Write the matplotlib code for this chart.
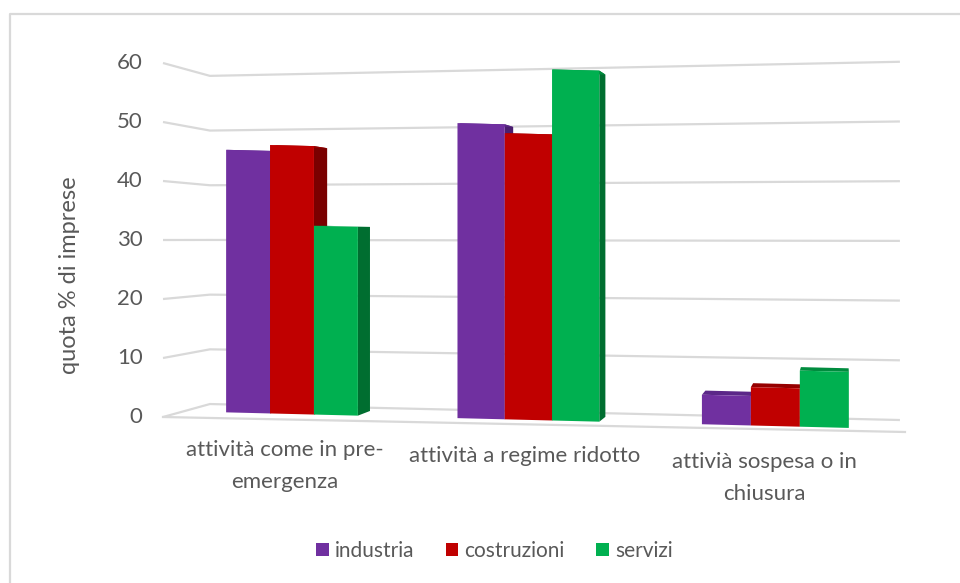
import matplotlib
matplotlib.use("Agg")
import matplotlib.pyplot as plt
from matplotlib.patches import Polygon, Patch
from matplotlib.transforms import Affine2D
import numpy as np

# dati
categorie = ["attività come in pre-\nemergenza", "attività a regime ridotto",
             "attivià sospesa o in\nchiusura"]
serie = ["industria", "costruzioni", "servizi"]
industria = [44.5, 50, 5]
costruzioni = [45.5, 48.5, 6.5]
servizi = [32, 59.5, 9.5]
tick_valori = [0, 10, 20, 30, 40, 50, 60]

colori = ["#7030A0", "#C00000", "#00B050"]
colori_lato = ["#4A1E6E", "#7A0000", "#006E30"]
colori_sopra = ["#5B2788", "#960000", "#008C3E"]
grigio = "#D9D9D9"
testo = "#595959"

plt.rcParams['font.family'] = ['Lato', 'DejaVu Sans']

fig = plt.figure(figsize=(9.6, 5.83), dpi=100)
ax = fig.add_axes([0, 0, 1, 1])
# 240 px per categoria, 5.9 px per punto percentuale
ax.set_xlim(-292 / 240, 668 / 240)
ax.set_ylim(-169 / 5.9, 414 / 5.9)
ax.axis('off')

# leggera inclinazione del pavimento verso destra
x0 = ax.transData.transform((0, 0))[0]
s = 0.025
taglio = Affine2D.from_values(1, -s, 0, 1, 0, s * x0)
trans = ax.transData + taglio

# pareti: lato sinistro, spigolo, fondo a destra
x_esterno, x_spigolo, x_destra = -0.5375, -0.342, 2.533
def lato_sx(v):
    return -0.51 + v * 1.0
def spigolo(v):
    return 1.69 + v * 0.927
def fondo_dx(v):
    return -1.02 + v * 1.012

for v in tick_valori:
    ax.plot([x_esterno, x_spigolo, x_destra], [lato_sx(v), spigolo(v), fondo_dx(v)],
            color=grigio, lw=1.6, zorder=0, solid_capstyle='butt')
    ax.text(x_esterno - 0.085, lato_sx(v), str(v), ha='right', va='center',
            fontsize=16, color=testo)
# bordo anteriore del pavimento
ax.plot([x_esterno, 2.554], [lato_sx(0), -3.05], color=grigio, lw=1.6, zorder=0)

# barre con facce laterali e superiori in prospettiva
larghezze = [0.183, 0.197, 0.204]   # le barre si allargano verso destra
centri = [0, 0.985, 2.014]
V = np.array([2.29, 33.7])
k = 0.025

def indietro(p):
    return p + k * (V - p)

for g in range(len(categorie)):
    larg = larghezze[g]
    for j, valori in enumerate([industria, costruzioni, servizi]):
        h = valori[g]
        xl = centri[g] + (j - 1) * larg - larg / 2
        xr = xl + larg
        fronte = np.array([[xl, 0], [xr, 0], [xr, h], [xl, h]], dtype=float)
        retro = indietro(fronte)
        ax.add_patch(Polygon([fronte[1], retro[1], retro[2], fronte[2]],
                             closed=True, facecolor=colori_lato[j], lw=0,
                             transform=trans, zorder=2))
        ax.add_patch(Polygon([fronte[3], fronte[2], retro[2], retro[3]],
                             closed=True, facecolor=colori_sopra[j], lw=0,
                             transform=trans, zorder=2))
        barre = ax.bar(xl, h, width=larg, align='edge', color=colori[j], lw=0, zorder=2)
        barre[0].set_transform(trans)
    ax.text(g - 0.03, -4.4, categorie[g], ha='center', va='top', fontsize=16,
            color=testo, linespacing=1.75, transform=trans)

ax.text(-0.925, 23.5, "quota % di imprese", rotation=90, ha='center', va='center',
        fontsize=17, color=testo)

# cornice esterna
ax.plot([10 / 960, 10 / 960, 1], [0, 1 - 14 / 583, 1 - 14 / 583], transform=ax.transAxes,
        color=grigio, lw=1.6, clip_on=False)

maniglie = [Patch(facecolor=c, label=n) for c, n in zip(colori, serie)]
fig.legend(handles=maniglie, loc='center', bbox_to_anchor=(0.515, 1 - 551 / 583), ncol=3,
           frameon=False, fontsize=15, handlelength=0.6, handleheight=0.6,
           handletextpad=0.3, columnspacing=1.5, labelcolor=testo)

fig.savefig("out.png", dpi=100)
